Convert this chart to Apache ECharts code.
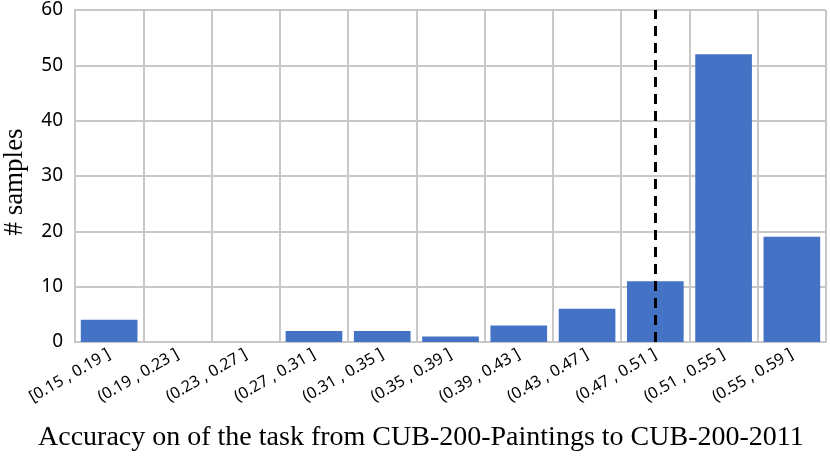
<!DOCTYPE html>
<html><head><meta charset="utf-8">
<script src="https://cdn.jsdelivr.net/npm/echarts@6/dist/echarts.min.js"></script>
<style>html,body{margin:0;padding:0;background:#fff}#c{width:830px;height:461px}</style>
</head><body><div id="c"></div>
<script>
var categories = ['[0.15 , 0.19 ]','(0.19 , 0.23 ]','(0.23 , 0.27 ]','(0.27 , 0.31 ]','(0.31 , 0.35 ]','(0.35 , 0.39 ]','(0.39 , 0.43 ]','(0.43 , 0.47 ]','(0.47 , 0.51 ]','(0.51 , 0.55 ]','(0.55 , 0.59 ]'];
var samples = [4, 0, 0, 2, 2, 1, 3, 6, 11, 52, 19];
var meanCategory = '(0.47 , 0.51 ]';
var yTicks = {min: 0, max: 60, interval: 10};
var xTitle = 'Accuracy on of the task from CUB-200-Paintings to CUB-200-2011';
var yTitle = '# samples';

var chart = echarts.init(document.getElementById('c'), null, {renderer: 'canvas'});
chart.setOption({
  animation: false,
  title: {
    text: xTitle, left: 38, top: 424, padding: 0,
    textStyle: {fontFamily: 'Liberation Serif', fontSize: 28, fontWeight: 'normal', color: '#000'}
  },
  grid: {left: 75, right: 4, top: 10, bottom: 119, containLabel: false, outerBoundsMode: 'none'},
  xAxis: {
    type: 'category', data: categories,
    axisLine: {show: true, lineStyle: {color: '#c8c8c8', width: 2}},
    axisTick: {show: false},
    splitLine: {show: true, lineStyle: {color: '#c8c8c8', width: 2}},
    axisLabel: {rotate: 30, interval: 0, fontFamily: 'Noto Sans', fontSize: 16, color: '#000', margin: 11}
  },
  yAxis: {
    type: 'value', min: yTicks.min, max: yTicks.max, interval: yTicks.interval,
    axisLine: {show: true, lineStyle: {color: '#c8c8c8', width: 2}},
    axisTick: {show: false},
    splitLine: {show: true, lineStyle: {color: '#c8c8c8', width: 2}},
    axisLabel: {fontFamily: 'Noto Sans', fontSize: 19, color: '#000', margin: 12},
    name: yTitle, nameLocation: 'middle', nameGap: 47,
    nameTextStyle: {fontFamily: 'Liberation Serif', fontSize: 27, color: '#000', padding: [0, 12, 0, 0]}
  },
  series: [{
    type: 'bar', data: samples, barCategoryGap: '17%',
    itemStyle: {color: '#4472C4'},
    markLine: {
      silent: true, symbol: 'none', label: {show: false},
      lineStyle: {color: '#000', type: [10, 7], width: 3},
      data: [{xAxis: meanCategory}]
    }
  }]
});
</script></body></html>
